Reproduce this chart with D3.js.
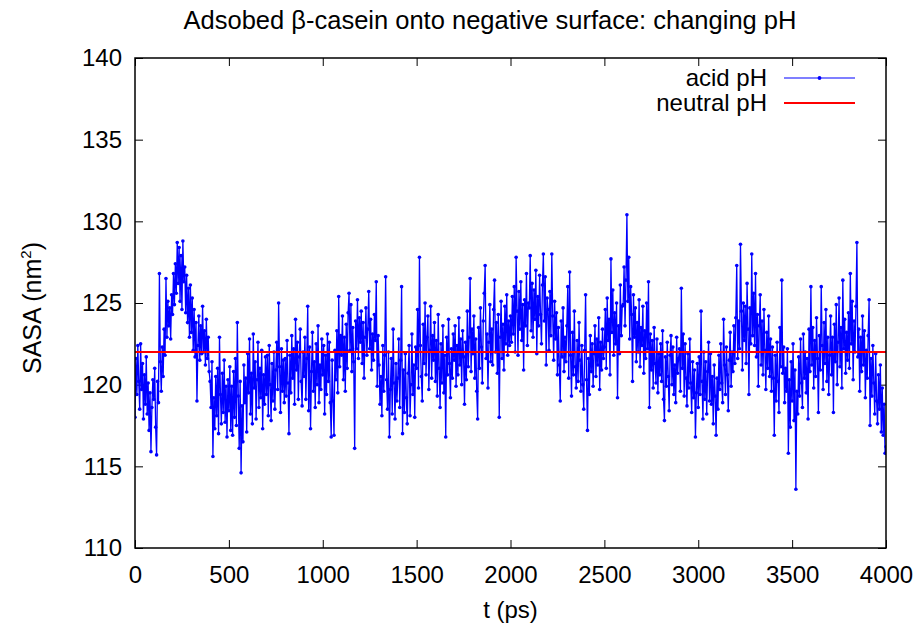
<!DOCTYPE html>
<html>
<head>
<meta charset="utf-8">
<script src="https://cdn.jsdelivr.net/npm/d3@7"></script>
<style>
  body { margin: 0; background: #fff; }
  svg { display: block; font-family: "Liberation Sans", Arial, Helvetica, sans-serif; }
</style>
</head>
<body>
<svg id="chart" width="921" height="633"></svg>
<script>
// ----- data -----
const chartTitle = 'Adsobed β-casein onto negative surface: changing pH';
const xTicks = [0, 500, 1000, 1500, 2000, 2500, 3000, 3500, 4000];
const yTicks = [110, 115, 120, 125, 130, 135, 140];
const seriesNames = ['acid pH', 'neutral pH'];

// acid pH: SASA (nm^2), one value every 5 ps from t = 0 to t = 4000
const timeStep = 5;
const acidSASA = [
  118.0, 121.6, 119.4, 122.4, 120.2, 118.5, 122.5, 119.7, 121.3, 117.9, 120.6, 118.8, 121.7, 118.2, 120.1, 117.2, 119.5, 115.9, 118.6, 120.3,
  119.1, 121.0, 117.4, 115.7, 120.2, 118.9, 126.8, 121.4, 119.6, 122.3, 120.5, 123.4, 121.8, 126.5, 122.9, 125.1, 123.6, 124.7, 122.8, 125.5,
  124.3, 126.8, 124.9, 127.4, 125.6, 128.7, 126.2, 128.4, 125.1, 127.9, 124.6, 128.8, 126.3, 127.2, 124.4, 126.7, 123.8, 125.9, 122.9, 126.1,
  123.2, 125.3, 122.1, 124.6, 121.7, 123.8, 119.0, 122.4, 124.2, 121.5, 123.6, 121.9, 124.8, 122.0, 123.3, 121.2, 124.0, 121.6, 122.9, 120.8,
  120.2, 118.6, 121.4, 115.6, 119.2, 117.3, 120.5, 118.1, 121.0, 117.0, 122.9, 119.4, 117.6, 120.7, 118.3, 121.5, 117.7, 119.9, 116.8, 120.3,
  118.4, 121.1, 117.2, 119.9, 116.9, 120.8, 118.0, 121.6, 117.5, 123.8, 119.3, 116.1, 120.2, 114.6, 118.7, 116.5, 121.2, 118.9, 120.4, 117.1,
  121.9, 119.5, 122.8, 118.2, 120.7, 117.6, 123.1, 119.8, 121.4, 117.9, 120.3, 122.6, 118.6, 121.0, 119.2, 122.1, 117.3, 120.6, 118.8, 121.7,
  119.4, 121.8, 118.1, 122.4, 120.0, 117.8, 121.3, 119.0, 122.0, 118.5, 120.9, 122.6, 119.7, 125.0, 121.1, 118.3, 122.2, 119.6, 121.5, 118.9,
  121.6, 119.3, 122.7, 120.1, 117.0, 121.8, 119.5, 123.0, 120.4, 122.2, 118.8, 124.0, 120.9, 122.6, 119.1, 121.7, 123.4, 120.2, 118.7, 122.0,
  120.5, 122.9, 119.1, 121.6, 124.8, 118.4, 122.3, 117.3, 120.8, 123.2, 119.6, 121.4, 118.6, 122.5, 120.0, 123.6, 118.9, 121.2, 119.7, 122.8,
  120.6, 122.4, 118.2, 121.8, 119.4, 123.1, 120.2, 122.6, 118.9, 116.8, 121.5, 119.0, 116.9, 122.1, 120.3, 123.3, 119.5, 125.4, 121.1, 123.0,
  121.8, 124.2, 120.3, 122.9, 119.6, 123.7, 121.0, 124.4, 125.6, 122.1, 124.9, 120.8, 123.5, 121.4, 116.1, 123.9, 122.2, 125.2, 121.6, 124.1,
  122.6, 124.5, 121.3, 123.8, 120.4, 122.9, 124.7, 121.8, 123.4, 125.7, 122.2, 124.0, 120.9, 123.1, 121.5, 124.3, 122.7, 126.3, 119.9, 123.0,
  121.2, 118.8, 120.5, 118.1, 122.4, 119.6, 121.8, 126.6, 120.3, 118.5, 122.0, 116.8, 119.7, 121.6, 118.2, 123.4, 120.1, 117.9, 121.3, 119.0,
  120.4, 122.8, 118.6, 121.5, 126.0, 117.0, 120.9, 118.3, 121.9, 119.2, 117.6, 120.7, 122.4, 118.1, 120.0, 123.1, 119.4, 121.2, 118.0, 122.3,
  121.0, 124.6, 119.8, 127.8, 122.4, 120.5, 119.0, 123.7, 121.3, 125.0, 120.6, 122.9, 124.2, 119.7, 122.1, 124.8, 120.4, 123.0, 121.5, 123.8,
  120.2, 122.7, 119.3, 124.3, 121.0, 118.6, 122.5, 120.1, 123.6, 119.5, 121.8, 116.8, 122.9, 120.6, 124.0, 121.3, 119.2, 122.2, 120.4, 123.1,
  121.5, 123.6, 119.9, 122.4, 120.6, 124.1, 121.2, 122.8, 120.0, 123.3, 121.7, 118.8, 122.6, 120.3, 124.5, 121.1, 122.9, 126.5, 120.8, 123.4,
  121.9, 124.2, 120.4, 122.8, 119.6, 117.9, 123.5, 121.0, 124.7, 122.3, 120.1, 123.9, 125.6, 127.3, 121.6, 123.1, 119.8, 122.6, 124.9, 121.4,
  123.4, 121.2, 124.6, 126.4, 122.0, 123.8, 120.7, 124.3, 118.0, 122.9, 125.1, 121.6, 123.7, 120.9, 124.8, 122.5, 125.5, 121.8, 123.9, 122.4,
  124.2, 122.6, 125.4, 123.1, 126.0, 122.0, 127.8, 124.5, 121.8, 125.7, 123.4, 126.3, 122.7, 124.9, 120.9, 125.2, 123.6, 126.8, 122.4, 125.0,
  124.7, 127.9, 123.3, 126.2, 122.9, 125.8, 124.0, 127.0, 121.9, 125.4, 123.6, 126.7, 124.3, 122.5, 126.1, 128.0, 123.9, 126.6, 121.2, 125.3,
  124.6, 122.1, 125.7, 123.0, 128.0, 124.2, 121.5, 125.1, 122.8, 124.4, 120.6, 123.5, 121.2, 119.0, 123.9, 121.7, 124.7, 120.8, 122.9, 121.4,
  123.6, 126.0, 120.4, 126.9, 121.8, 119.3, 123.2, 120.6, 124.5, 121.1, 119.8, 122.7, 120.2, 123.8, 121.5, 119.6, 122.4, 120.0, 118.5, 122.1,
  125.5, 120.3, 117.2, 121.6, 119.4, 123.0, 120.8, 122.5, 119.9, 121.9, 123.6, 120.5, 122.8, 121.2, 124.1, 119.7, 122.6, 120.9, 123.4, 121.6,
  122.3, 124.6, 121.0, 125.3, 122.7, 124.0, 120.6, 127.7, 123.2, 125.8, 121.8, 124.4, 122.5, 125.0, 119.2, 123.6, 121.9, 126.1, 123.0, 124.8,
  124.9, 127.2, 123.6, 126.4, 130.4, 125.1, 127.8, 122.8, 126.0, 124.3, 120.2, 125.5, 122.9, 124.7, 121.4, 123.8, 122.0, 125.2, 121.1, 123.5,
  122.4, 124.8, 120.7, 123.3, 121.6, 125.0, 122.2, 126.3, 118.6, 123.1, 120.9, 122.7, 119.8, 123.5, 121.3, 120.1, 122.8, 119.5, 121.9, 120.6,
  122.5, 120.2, 123.3, 119.1, 117.8, 121.7, 119.9, 122.6, 120.5, 118.4, 121.8, 123.0, 120.0, 122.3, 119.4, 121.2, 118.9, 122.9, 120.7, 121.6,
  122.2, 119.6, 125.9, 121.0, 123.1, 119.3, 122.5, 120.4, 118.7, 121.9, 119.8, 122.8, 120.1, 118.3, 121.4, 119.2, 120.9, 116.8, 119.5, 121.3,
  118.6, 121.7, 119.4, 124.5, 120.2, 117.9, 122.0, 119.1, 121.4, 118.2, 120.8, 122.6, 119.0, 121.9, 118.8, 120.5, 117.6, 121.2, 119.3, 116.9,
  120.4, 118.5, 121.8, 119.7, 122.5, 120.1, 118.9, 124.0, 121.2, 119.4, 122.3, 120.6, 118.4, 121.5, 123.2, 119.9, 122.0, 120.8, 123.6, 121.3,
  124.1, 127.3, 121.6, 123.9, 122.2, 128.6, 124.5, 120.9, 125.0, 122.7, 124.8, 121.3, 126.2, 123.4, 119.4, 124.7, 122.5, 128.0, 123.0, 125.6,
  122.4, 126.8, 121.7, 124.3, 119.9, 123.6, 125.5, 121.2, 123.9, 120.6, 124.6, 122.1, 119.7, 123.2, 121.0, 124.2, 120.5, 122.8, 119.6, 122.3,
  120.4, 116.9, 121.8, 119.0, 122.6, 120.2, 118.3, 123.5, 121.1, 126.4, 120.7, 122.3, 118.9, 121.0, 119.6, 122.2, 115.8, 120.3, 117.4, 121.4,
  119.0, 122.5, 117.8, 120.9, 113.6, 119.6, 118.2, 121.7, 119.3, 122.8, 120.1, 118.6, 123.1, 120.4, 122.0, 119.5, 121.6, 117.9, 123.4, 120.8,
  126.0, 121.2, 123.5, 119.8, 122.7, 120.5, 124.1, 121.6, 118.3, 123.0, 120.9, 126.0, 122.4, 119.7, 123.8, 121.3, 124.6, 120.2, 122.9, 119.4,
  121.8, 124.2, 120.6, 122.9, 118.3, 123.7, 121.4, 124.9, 120.0, 122.6, 125.3, 121.1, 123.5, 119.8, 126.4, 122.2, 124.0, 120.7, 123.2, 121.5,
  124.4, 121.0, 126.8, 122.5, 125.1, 120.3, 123.9, 122.0, 124.8, 128.7, 121.7, 123.4, 119.6, 122.9, 120.8, 124.2, 121.2, 123.3, 119.2, 122.1,
  120.4, 123.0, 125.2, 117.5, 121.6, 119.3, 122.4, 120.1, 118.2, 121.9, 119.0, 117.6, 120.6, 118.5, 121.2, 117.1, 119.8, 116.9, 118.8, 115.8,
  116.2
];

// neutral pH: flat line
const neutralTime = [0, 4000];
const neutralSASA = [122, 122];

// ----- layout -----
const width = 921, height = 633;
const margin = { top: 58, right: 35, bottom: 85, left: 135 };
const plotW = width - margin.left - margin.right;
const plotH = height - margin.top - margin.bottom;
const fontSize = 24;

const svg = d3.select('#chart');

const x = d3.scaleLinear().domain([0, 4000]).range([0, plotW]);
const y = d3.scaleLinear().domain([110, 140]).range([plotH, 0]);

const acid = acidSASA.map((v, i) => ({ t: i * timeStep, v }));
const neutral = neutralTime.map((t, i) => ({ t, v: neutralSASA[i] }));

// title
svg.append('text')
  .attr('x', 490)
  .attr('y', 29)
  .attr('text-anchor', 'middle')
  .attr('font-size', 25.5)
  .text(chartTitle);

const g = svg.append('g').attr('transform', `translate(${margin.left},${margin.top})`);

// clip so nothing leaves the frame
g.append('clipPath').attr('id', 'clip')
  .append('rect').attr('width', plotW).attr('height', plotH);

// axes: gnuplot style, ticks pointing inward, mirrored on top/right
function styleAxis(sel) {
  sel.select('.domain').remove();
  sel.selectAll('.tick line').attr('stroke', '#000').attr('stroke-width', 1);
  sel.selectAll('.tick text').attr('fill', '#000').attr('font-size', fontSize)
    .attr('font-family', '"Liberation Sans", Arial, Helvetica, sans-serif');
}

g.append('g')
  .attr('transform', `translate(0,${plotH})`)
  .call(d3.axisBottom(x).tickValues(xTicks).tickSize(-8).tickPadding(18).tickFormat(d3.format('d')))
  .call(styleAxis);

g.append('g')
  .call(d3.axisTop(x).tickValues(xTicks).tickSize(-8).tickFormat(''))
  .call(styleAxis);

g.append('g')
  .call(d3.axisLeft(y).tickValues(yTicks).tickSize(-8).tickPadding(13).tickFormat(d3.format('d')))
  .call(styleAxis);

g.append('g')
  .attr('transform', `translate(${plotW},0)`)
  .call(d3.axisRight(y).tickValues(yTicks).tickSize(-8).tickFormat(''))
  .call(styleAxis);

// series
const plot = g.append('g').attr('clip-path', 'url(#clip)');

const line = d3.line().x(d => x(d.t)).y(d => y(d.v));

plot.append('path')
  .datum(acid)
  .attr('fill', 'none')
  .attr('stroke', '#0000ff')
  .attr('stroke-width', 1.3)
  .attr('d', line);

plot.append('g')
  .selectAll('circle')
  .data(acid)
  .join('circle')
  .attr('cx', d => x(d.t))
  .attr('cy', d => y(d.v))
  .attr('r', 1.8)
  .attr('fill', '#0000ff');

plot.append('path')
  .datum(neutral)
  .attr('fill', 'none')
  .attr('stroke', '#ff0000')
  .attr('stroke-width', 2)
  .attr('d', line);

// frame
g.append('rect')
  .attr('width', plotW)
  .attr('height', plotH)
  .attr('fill', 'none')
  .attr('stroke', '#000')
  .attr('stroke-width', 1.5);

// legend (top right, inside the frame)
const legend = svg.append('g').attr('font-size', fontSize);
const legendColors = ['#0000ff', '#ff0000'];
const legendWidths = [1.2, 2];
seriesNames.forEach((name, i) => {
  const ly = 78 + i * 25;
  legend.append('text')
    .attr('x', 767).attr('y', ly).attr('dy', '0.35em')
    .attr('text-anchor', 'end')
    .text(name);
  legend.append('line')
    .attr('x1', 784).attr('x2', 855).attr('y1', ly).attr('y2', ly)
    .attr('stroke', legendColors[i]).attr('stroke-width', legendWidths[i]);
  if (i === 0) {
    legend.append('circle').attr('cx', 819.5).attr('cy', ly).attr('r', 1.9).attr('fill', legendColors[i]);
  }
});

// axis titles
svg.append('text')
  .attr('x', margin.left + plotW / 2)
  .attr('y', 618)
  .attr('text-anchor', 'middle')
  .attr('font-size', fontSize)
  .text('t (ps)');

const yLab = svg.append('text')
  .attr('transform', `translate(41,308) rotate(-90)`)
  .attr('text-anchor', 'middle')
  .attr('font-size', 25);
yLab.append('tspan').text('SASA (nm');
yLab.append('tspan').attr('font-size', 15).attr('dy', -10).text('2');
yLab.append('tspan').attr('dy', 10).text(')');
</script>
</body>
</html>
